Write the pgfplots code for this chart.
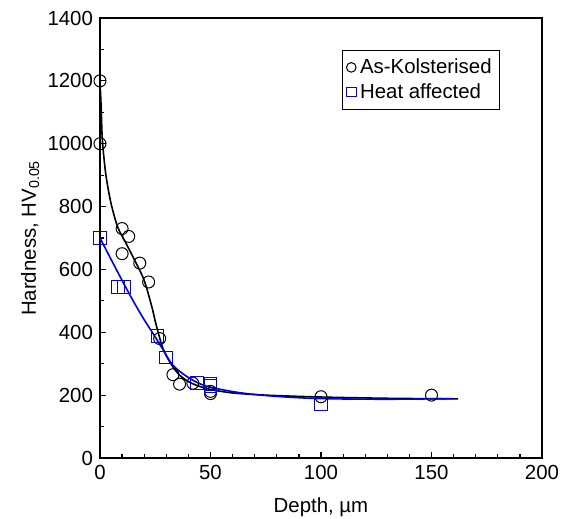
\documentclass[border=0pt]{standalone}
\usepackage{pgfplots}
\pgfplotsset{compat=1.18}
\usepackage{fontspec}
\setmainfont{Liberation Sans}
\definecolor{hablue}{RGB}{0,0,230}

\begin{document}
\begin{tikzpicture}
\useasboundingbox (-50pt,-30pt) rectangle (235.5pt,229pt);
\begin{axis}[
  width=221pt,height=220pt,scale only axis,
  xmin=0,xmax=200,ymin=0,ymax=1400,
  xtick={0,50,...,200},ytick={0,200,...,1400},
  minor x tick num=4,minor y tick num=1,
  tick align=inside,
  xtick pos=bottom,ytick pos=left,
  major tick length=3pt,minor tick length=2pt,
  tick style={black,line width=0.6pt},
  axis line style={line width=0.7pt},
  /pgf/number format/assume math mode=true,
  /pgf/number format/1000 sep={},
  tick label style={font=\fontsize{10.2}{12}\selectfont},
  label style={font=\fontsize{10.2}{12}\selectfont},
  xlabel={Depth, µm},
  ylabel={Hardness, HV\textsubscript{0.05}},
  xlabel style={at={(axis description cs:0.5,-0.111)},anchor=center},
  ylabel style={at={(axis description cs:-0.158,0.5)},anchor=center},
  legend style={at={(0.905,0.927)},anchor=north east,draw=black,
    font=\fontsize{10.2}{12}\selectfont,inner sep=2pt,row sep=-0.5pt,
    cells={anchor=west}},
  legend image code/.code={\draw[mark size=2.4pt,mark repeat=2,mark phase=2,#1]
    plot coordinates {(0cm,0cm) (0.15cm,0cm) (0.3cm,0cm)};},
  clip=false,
]
% data marks
\addplot[only marks,mark=o,mark size=3pt,mark options={black,fill=white,line width=0.5pt}] coordinates {
(0,1200) (0,1000) (10,730) (13,705) (10,650) (18,620) (22,560) (27,380)
(33,265) (36,235) (42,238) (50,205) (50,212) (100,195) (150,200)};
\addlegendentry{As-Kolsterised}
\addplot[only marks,mark=square,mark size=3.2pt,mark options={hablue,fill=white,line width=0.5pt}] coordinates {
(0,700) (8,545) (11,545) (26,388) (30,320) (44,238) (50,228) (50,236) (100,172)};
\addlegendentry{Heat affected}
% fitted curves
\addplot[black,line width=0.8pt,smooth,tension=0.5,forget plot] coordinates {
(0,1200) (0.5,1120) (1,1020) (2,940) (3,885) (5,810) (8,735) (12,680) (16,625)
(20,565) (23.5,480) (25,435) (26.5,395) (28,358) (30,325) (33,290) (36,264)
(40,243) (45,228) (50,218) (60,207) (75,200) (100,194) (130,190) (162,188)};
\addplot[hablue,line width=0.8pt,smooth,tension=0.5,forget plot] coordinates {
(0,700) (5,632) (10,565) (15,500) (20,440) (25,385) (28.5,345) (33,295)
(40,256) (48,229) (63,208) (80,196) (100,189) (130,187) (160,189)};
\end{axis}
\end{tikzpicture}
\end{document}
